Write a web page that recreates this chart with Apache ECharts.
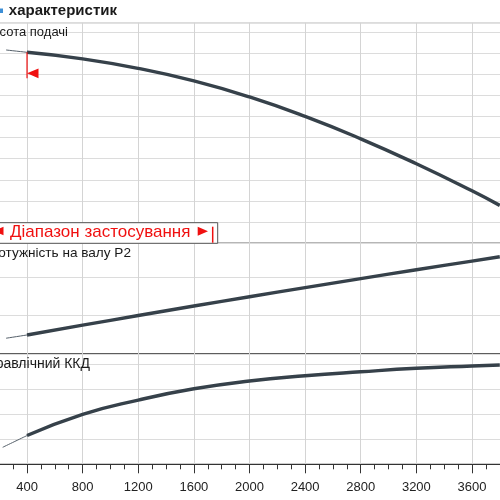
<!DOCTYPE html>
<html><head><meta charset="utf-8">
<script src="https://cdn.jsdelivr.net/npm/echarts@6/dist/echarts.min.js"></script>
<style>html,body{margin:0;padding:0;background:#fff;overflow:hidden}#c{width:500px;height:500px}</style>
</head><body><div id="c"></div>
<script>
// ---- data ----
const flow = [400, 800, 1200, 1600, 2000, 2400, 2800, 3200, 3600, 3800];
const head = [9.03, 8.72, 8.27, 7.68, 6.92, 6.00, 4.94, 3.76, 2.48, 1.79];
const power = [0.494, 0.748, 1.000, 1.247, 1.488, 1.725, 1.958, 2.187, 2.413, 2.525];
const efficiency = [1.15, 2.00, 2.57, 3.02, 3.33, 3.54, 3.70, 3.84, 3.93, 3.97];
const headLowFlow = [250, 400];
const headLow = [9.14, 9.03];
const powerLowFlow = [250, 400];
const powerLow = [0.41, 0.494];
const effLowFlow = [225, 400];
const effLow = [0.68, 1.15];
const xMin = 0, xMax = 4000, xStep = 400;
const rangeStart = 400;
const titleText = 'характеристик';
const panelLabels = ['Висота подачі', 'Потужність на валу P2', 'Гідравлічний ККД'];
const rangeLabel = 'Діапазон застосування';

const pairs = (xs, ys) => xs.map((x, i) => [x, ys[i]]);

const chart = echarts.init(document.getElementById('c'), null, {renderer: 'canvas'});
const FONT = 'Liberation Sans, Arial, sans-serif';
const gridLeft = -28.6, gridWidth = 556.2;
const grids = [
  {left: gridLeft, width: gridWidth, top: 22.7, height: 220.6, show: true, borderColor: '#888', borderWidth: 1.2, backgroundColor: '#fff', outerBoundsMode: 'none'},
  {left: gridLeft, width: gridWidth, top: 243.3, height: 110.7, show: true, borderColor: '#3a3a3a', borderWidth: 1.3, outerBoundsMode: 'none'},
  {left: gridLeft, width: gridWidth, top: 354.3, height: 110, show: true, borderColor: '#3a3a3a', borderWidth: 1.3, outerBoundsMode: 'none'}
];
const splitV = {show: true, lineStyle: {color: '#d4d4d4', width: 1}};
const splitH = {show: true, lineStyle: {color: '#dcdcdc', width: 1}};
const xAxes = [0, 1, 2].map(i => ({
  type: 'value', gridIndex: i, min: xMin, max: xMax, interval: xStep,
  splitLine: splitV,
  axisLine: {show: i === 2, onZero: false, lineStyle: {color: '#333', width: 1.2}},
  axisTick: {show: i === 2, length: 9, lineStyle: {color: '#333', width: 1}},
  minorTick: {show: i === 2, splitNumber: 4, length: 5, lineStyle: {color: '#333', width: 1}},
  axisLabel: {show: i === 2, color: '#222', fontSize: 13, fontFamily: FONT, margin: 17, formatter: v => String(v)}
}));
const yAxes = [
  {gridIndex: 0, min: 0, max: 10.43, interval: 1},
  {gridIndex: 1, min: 0, max: 2.875, interval: 1},
  {gridIndex: 2, min: 0, max: 4.4, interval: 1}
].map(a => Object.assign({type: 'value', splitLine: splitH, axisLine: {show: false}, axisTick: {show: false}, axisLabel: {show: false}}, a));

const thick = {color: '#36414a', width: 3.4};
const thin = {color: '#55606a', width: 1};
function ser(i, data, style) {
  return {type: 'line', xAxisIndex: i, yAxisIndex: i, data, smooth: 0.5, showSymbol: false, lineStyle: style, silent: true, animation: false, z: 5};
}
const series = [
  ser(0, pairs(headLowFlow, headLow), thin),
  ser(0, pairs(flow, head), thick),
  ser(1, pairs(powerLowFlow, powerLow), thin),
  ser(1, pairs(flow, power), thick),
  ser(2, pairs(effLowFlow, effLow), thin),
  ser(2, pairs(flow, efficiency), thick)
];

chart.setOption({animation: false, backgroundColor: '#fff', grid: grids, xAxis: xAxes, yAxis: yAxes, series});

// annotations
const p = chart.convertToPixel({gridIndex: 0}, [rangeStart, head[0]]);
const RED = '#f01010';
const graphics = [
  {type: 'rect', shape: {x: -4, y: 8.5, width: 7, height: 4.5}, style: {fill: '#3d8fd6'}, z: 20},
  {type: 'text', x: 117, y: 11, style: {text: titleText, fontSize: 15, fontWeight: 'bold', fontFamily: FONT, fill: '#1a1a1a', align: 'right', verticalAlign: 'middle'}, z: 20},
  {type: 'text', x: 68, y: 32.5, style: {text: panelLabels[0], fontSize: 13, fontFamily: FONT, fill: '#1a1a1a', align: 'right', verticalAlign: 'middle'}, z: 20},
  {type: 'text', x: 131, y: 253.5, style: {text: panelLabels[1], fontSize: 13.6, fontFamily: FONT, fill: '#1a1a1a', align: 'right', verticalAlign: 'middle'}, z: 20},
  {type: 'text', x: 90, y: 364.5, style: {text: panelLabels[2], fontSize: 14, fontFamily: FONT, fill: '#1a1a1a', align: 'right', verticalAlign: 'middle'}, z: 20},
  // range start marker
  {type: 'line', shape: {x1: p[0], y1: p[1], x2: p[0], y2: p[1] + 26}, style: {stroke: RED, lineWidth: 1.2}, z: 21},
  {type: 'polygon', shape: {points: [[p[0], p[1] + 21], [p[0] + 11.5, p[1] + 16.2], [p[0] + 11.5, p[1] + 26]]}, style: {fill: RED}, z: 21},
  // range legend box
  {type: 'rect', shape: {x: -10, y: 222.7, width: 227.7, height: 20.6}, style: {fill: '#fff', stroke: '#555', lineWidth: 1}, z: 22},
  {type: 'polygon', shape: {points: [[-6, 231], [3.5, 226.8], [3.5, 235.2]]}, style: {fill: RED}, z: 23},
  {type: 'text', x: 10, y: 232, style: {text: rangeLabel, fontSize: 17, fontFamily: FONT, fill: RED, align: 'left', verticalAlign: 'middle'}, z: 23},
  {type: 'polygon', shape: {points: [[197.7, 226.8], [208, 231.3], [197.7, 235.8]]}, style: {fill: RED}, z: 23},
  {type: 'line', shape: {x1: 212.7, y1: 226.7, x2: 212.7, y2: 242.7}, style: {stroke: RED, lineWidth: 1.5}, z: 23}
];
chart.setOption({graphic: graphics});
</script>
</body></html>
